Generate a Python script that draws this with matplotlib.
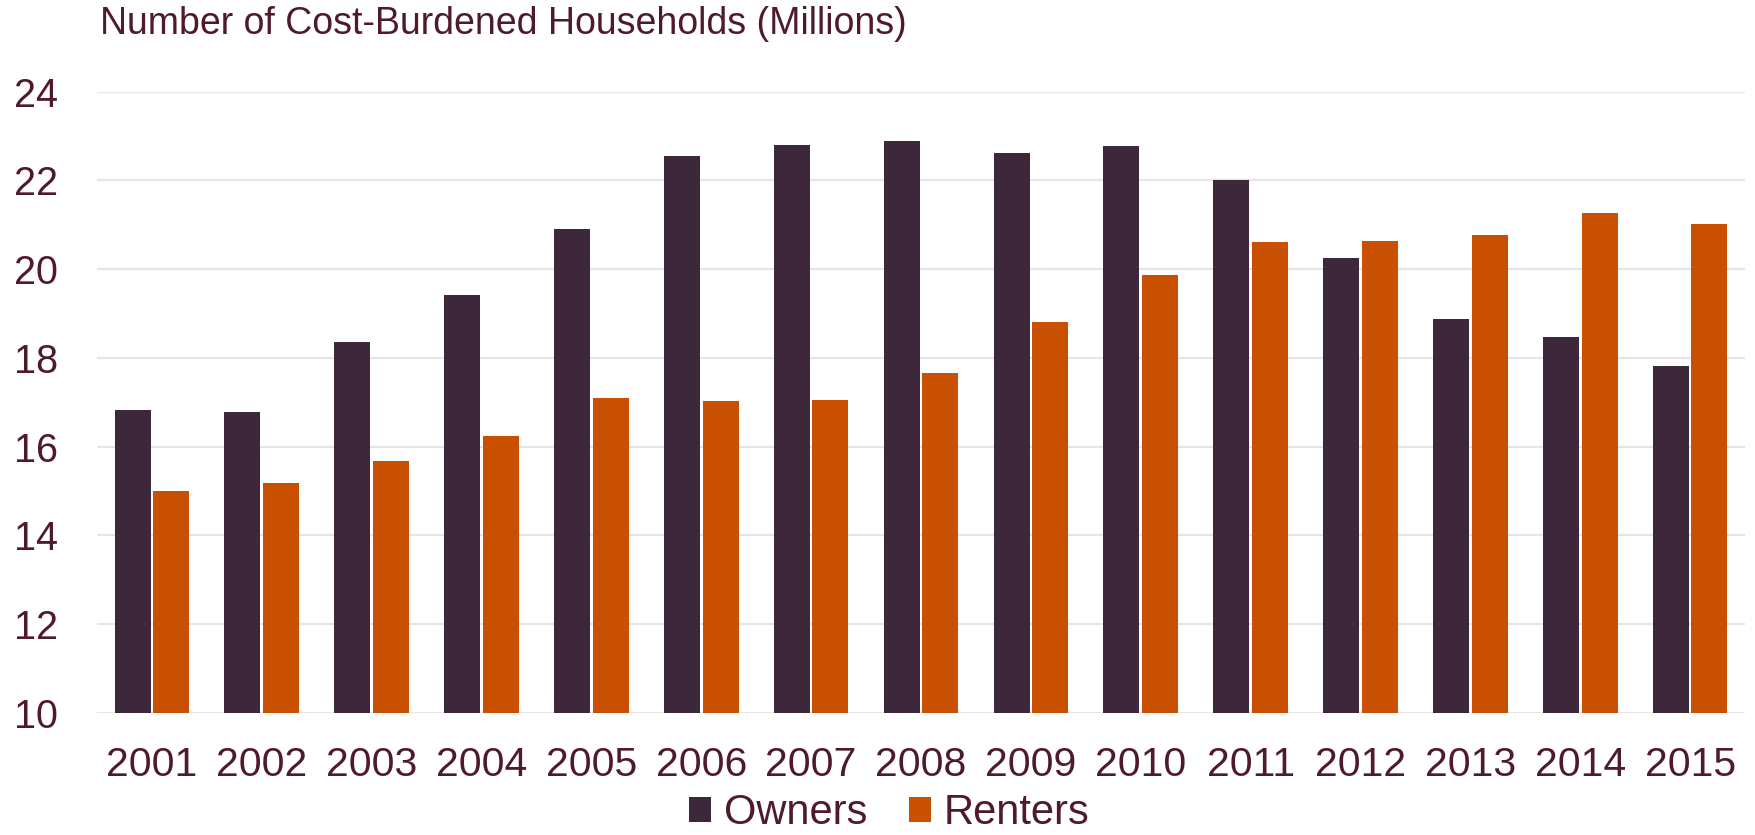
import matplotlib
matplotlib.use("Agg")
import matplotlib.pyplot as plt
from matplotlib.patches import Patch
import numpy as np

years = ["2001", "2002", "2003", "2004", "2005", "2006", "2007", "2008",
         "2009", "2010", "2011", "2012", "2013", "2014", "2015"]
owners = [16.82, 16.79, 18.37, 19.41, 20.90, 22.54, 22.79, 22.88,
          22.62, 22.78, 22.01, 20.26, 18.87, 18.48, 17.83]
renters = [15.01, 15.19, 15.68, 16.25, 17.10, 17.04, 17.05, 17.67,
           18.81, 19.87, 20.61, 20.64, 20.77, 21.27, 21.03]
yticks = [10, 12, 14, 16, 18, 20, 22, 24]
title = "Number of Cost-Burdened Households (Millions)"

OWN = "#3D273A"
REN = "#C85000"
TXT = "#4F1A2E"
GRID = "#E8E3E6"

plt.rcParams['font.family'] = ['Liberation Sans', 'DejaVu Sans']

fig = plt.figure(figsize=(17.56, 8.35), dpi=100)
ax = fig.add_axes([97/1756, 1-713/835, (1745-97)/1756, (713-91.7)/835])

x = np.arange(len(years))
w = 0.328
off = 0.176
ax.bar(x - off, owners, width=w, color=OWN, zorder=3, label="Owners")
ax.bar(x + off, renters, width=w, color=REN, zorder=3, label="Renters")

ax.set_ylim(10, 24)
ax.set_xlim(-0.5, len(years) - 0.5)
ax.set_yticks(yticks)
ax.set_yticklabels([str(t) for t in yticks])
ax.set_xticks(x)
ax.set_xticklabels(years)
ax.yaxis.grid(True, color=GRID, linewidth=1.5, zorder=0)
ax.set_axisbelow(True)
for s in ax.spines.values():
    s.set_visible(False)
ax.tick_params(axis='y', length=0, pad=28, labelsize=28.5, labelcolor=TXT)
ax.tick_params(axis='x', length=0, pad=24, labelsize=29.5, labelcolor=TXT)

fig.text(100/1756, 0.993, title, ha='left', va='top', fontsize=27, color=TXT)

handles = [Patch(facecolor=OWN), Patch(facecolor=REN)]
leg = fig.legend(handles, ["Owners", "Renters"], loc='center',
                 bbox_to_anchor=(889/1756, 1-813/835), ncol=2, frameon=False,
                 fontsize=30, handlelength=0.53, handleheight=0.53,
                 handletextpad=0.3, columnspacing=1.0, borderpad=0, borderaxespad=0)
for t in leg.get_texts():
    t.set_color(TXT)

fig.savefig("out.png", dpi=100, facecolor="white")
